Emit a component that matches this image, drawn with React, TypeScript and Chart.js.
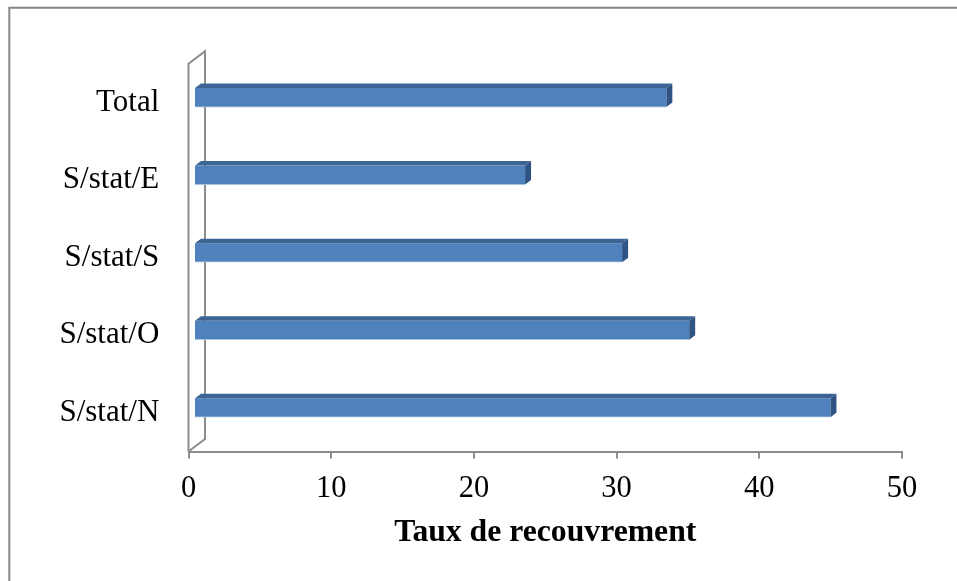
import React, { useEffect, useRef } from "react";
import { Chart, registerables } from "chart.js";

Chart.register(...registerables);

// ---- data ----
const categories = ["Total", "S/stat/E", "S/stat/S", "S/stat/O", "S/stat/N"];
const values = [33.1, 23.2, 30.0, 34.7, 44.6];
const xTitle = "Taux de recouvrement";
const xMin = 0;
const xMax = 50;
const xStep = 10;

// ---- style ----
const FONT = "'Liberation Serif', 'Times New Roman', serif";
const AXIS_GRAY = "#8C8C8C";
const FRONT = "#4F81BD";
const TOP = "#3D6594";
const SIDE = "#2F5382";
const BAR_SHIFT = { x: 5.5, y: -5 };
const BAR_DEPTH = { x: 6, y: -4.5 };
const WALL_DEPTH = { x: 16.5, y: -12.5 };

const frame3d = {
  id: "frame3d",
  beforeDraw(chart: any) {
    const { ctx, width, height } = chart;
    ctx.save();
    ctx.fillStyle = "#ffffff";
    ctx.fillRect(0, 0, width, height);
    ctx.strokeStyle = "#878787";
    ctx.lineWidth = 2;
    ctx.beginPath();
    ctx.moveTo(9.3, height + 2);
    ctx.lineTo(9.3, 7.7);
    ctx.lineTo(width + 2, 7.7);
    ctx.stroke();
    ctx.restore();
  },
  beforeDatasetsDraw(chart: any) {
    const { ctx, chartArea } = chart;
    const l = chartArea.left;
    const t = chartArea.top;
    const b = chartArea.bottom;
    ctx.save();
    ctx.strokeStyle = AXIS_GRAY;
    ctx.lineWidth = 2;
    ctx.beginPath();
    ctx.moveTo(l, b);
    ctx.lineTo(l, t);
    ctx.lineTo(l + WALL_DEPTH.x, t + WALL_DEPTH.y);
    ctx.lineTo(l + WALL_DEPTH.x, b + WALL_DEPTH.y);
    ctx.lineTo(l, b);
    ctx.stroke();
    ctx.restore();
  },
  beforeDatasetDraw(chart: any) {
    chart.ctx.save();
    chart.ctx.translate(BAR_SHIFT.x, BAR_SHIFT.y);
  },
  afterDatasetDraw(chart: any, args: any) {
    const { ctx } = chart;
    const meta = args.meta;
    meta.data.forEach((el: any) => {
      const { x, y, base, height } = el.getProps(["x", "y", "base", "height"], true);
      const top = y - height / 2;
      const bottom = y + height / 2;
      const dx = BAR_DEPTH.x;
      const dy = BAR_DEPTH.y;
      // top face
      ctx.fillStyle = TOP;
      ctx.beginPath();
      ctx.moveTo(base, top);
      ctx.lineTo(base + dx, top + dy);
      ctx.lineTo(x + dx, top + dy);
      ctx.lineTo(x, top);
      ctx.closePath();
      ctx.fill();
      // side face
      ctx.fillStyle = SIDE;
      ctx.beginPath();
      ctx.moveTo(x, top);
      ctx.lineTo(x + dx, top + dy);
      ctx.lineTo(x + dx, bottom + dy);
      ctx.lineTo(x, bottom);
      ctx.closePath();
      ctx.fill();
    });
    ctx.restore();
  },
};

export default function App() {
  const ref = useRef<HTMLCanvasElement | null>(null);

  useEffect(() => {
    if (!ref.current) return;
    const chart = new Chart(ref.current, {
      type: "bar",
      data: {
        labels: categories,
        datasets: [
          {
            data: values,
            backgroundColor: FRONT,
            borderColor: "#A9C1E0",
            borderWidth: { top: 0, right: 0, bottom: 1, left: 0 } as any,
            borderSkipped: false,
            barThickness: 19,
          },
        ],
      },
      options: {
        indexAxis: "y",
        animation: false,
        responsive: false,
        devicePixelRatio: 1,
        layout: { padding: { left: 0, top: 63.8, right: 55, bottom: 0 } },
        plugins: {
          legend: { display: false },
          tooltip: { enabled: false },
          title: { display: false },
        },
        scales: {
          x: {
            type: "linear",
            min: xMin,
            max: xMax,
            ticks: {
              stepSize: xStep,
              color: "#000000",
              padding: 12,
              font: { family: FONT, size: 30.5 },
            },
            grid: {
              drawOnChartArea: false,
              drawTicks: true,
              tickLength: 7,
              color: AXIS_GRAY,
              lineWidth: 2,
            },
            border: { display: true, color: AXIS_GRAY, width: 2 },
            title: {
              display: true,
              text: xTitle,
              color: "#000000",
              font: { family: FONT, size: 31.7, weight: "bold" },
              padding: { top: 0, bottom: 29.6 },
            },
            afterFit: (scale: any) => {
              scale.height = 129.5;
            },
          },
          y: {
            type: "category",
            ticks: {
              color: "#000000",
              padding: 29.2,
              font: { family: FONT, size: 31 },
            },
            grid: { display: false, drawTicks: false },
            border: { display: false },
            afterFit: (scale: any) => {
              scale.width = 188.5;
            },
          },
        },
      },
      plugins: [frame3d],
    });
    return () => chart.destroy();
  }, []);

  return (
    <div style={{ position: "fixed", left: 0, top: 0, width: 957, height: 581, background: "#fff" }}>
      <canvas ref={ref} width={957} height={581} style={{ width: 957, height: 581, display: "block" }} />
    </div>
  );
}
